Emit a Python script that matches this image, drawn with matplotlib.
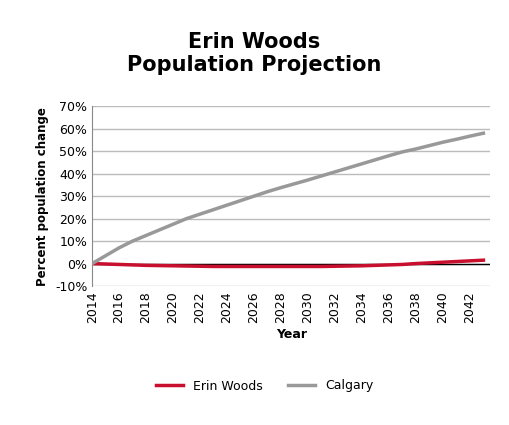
import matplotlib
matplotlib.use("Agg")
import matplotlib.pyplot as plt
from matplotlib.ticker import FuncFormatter

years = list(range(2014, 2044))
calgary = [0, 3.5, 7, 10, 12.5, 15, 17.5, 20, 22, 24, 26, 28, 30, 32, 33.8,
           35.5, 37.2, 39, 40.8, 42.6, 44.4, 46.2, 48, 49.7, 51, 52.5, 54, 55.3, 56.7, 58]
erin = [0, -0.2, -0.4, -0.6, -0.8, -0.9, -1.0, -1.1, -1.2, -1.3, -1.3, -1.3, -1.3, -1.3, -1.3,
        -1.3, -1.3, -1.3, -1.2, -1.1, -1.0, -0.8, -0.6, -0.4, 0.0, 0.3, 0.6, 0.9, 1.2, 1.5]
xticks = list(range(2014, 2044, 2))

fig = plt.figure(figsize=(5.09, 4.25), dpi=100)
ax = fig.add_axes([0.181, 0.327, 0.782, 0.423])
ax.axhline(0, color="black", lw=1, zorder=2)
ax.plot(years, erin, color="#c8102e", lw=2.5, label="Erin Woods", zorder=3)
ax.plot(years, calgary, color="#999999", lw=2.5, label="Calgary", zorder=3)
ax.set_xlim(2014, 2043.5)
ax.set_ylim(-10, 70)
ax.set_yticks(range(-10, 71, 10))
ax.yaxis.set_major_formatter(FuncFormatter(lambda v, p: f"{v:.0f}%"))
ax.set_xticks(xticks)
ax.set_xticklabels([str(y) for y in xticks], rotation=90, fontsize=9)
ax.tick_params(axis="x", length=0)
ax.tick_params(axis="y", labelsize=9, length=0)
ax.grid(axis="y", color="#bbbbbb", lw=1)
for s in ["top", "right"]:
    ax.spines[s].set_visible(False)
ax.spines["left"].set_color("#888888")
ax.spines["bottom"].set_visible(False)
ax.set_axisbelow(True)
ax.set_xlabel("Year", fontweight="bold", fontsize=9)
ax.set_ylabel("Percent population change", fontweight="bold", fontsize=8.5)
fig.suptitle("Erin Woods\nPopulation Projection", fontweight="bold", fontsize=15, y=0.925)
fig.legend(loc="lower center", bbox_to_anchor=(0.52, 0.05), ncol=2, frameon=False, fontsize=9,
           handlelength=2.2)
fig.savefig("out.png", dpi=100)
